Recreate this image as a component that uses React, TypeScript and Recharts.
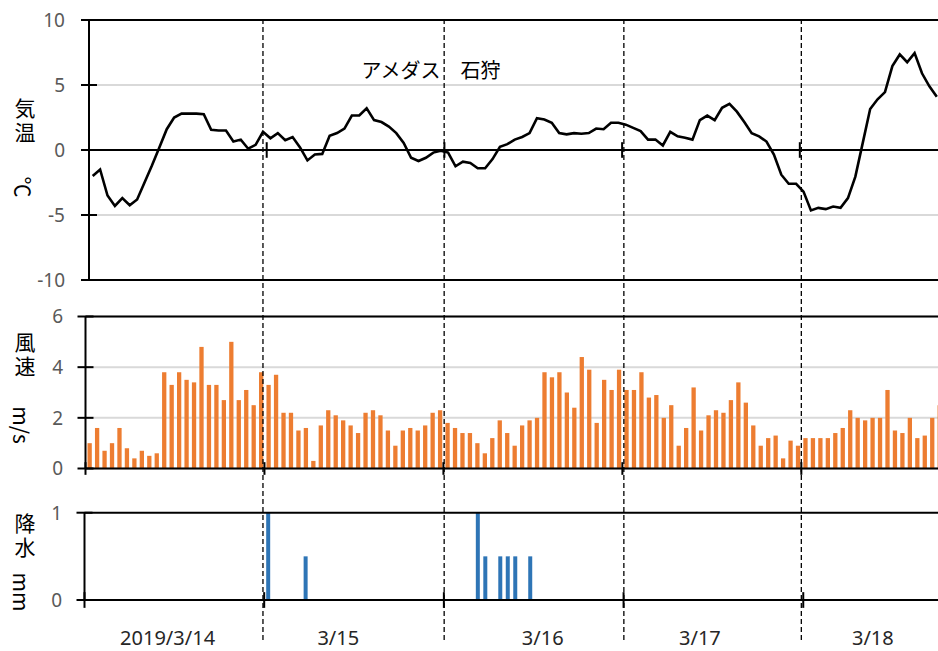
import React from 'react';
import { LineChart, Line, BarChart, Bar, XAxis, YAxis, CartesianGrid, ReferenceLine } from 'recharts';

// hourly values, 3/14 ... 3/18 (one row = one day)
const temperature = [
  -2.0, -1.5, -3.5, -4.3, -3.7, -4.25, -3.8, -2.5, -1.2, 0.2, 1.6, 2.5, 2.8, 2.8, 2.8, 2.75, 1.55, 1.5, 1.5, 0.65, 0.8, 0.1, 0.4, 1.4,
  0.9, 1.3, 0.75, 1.0, 0.2, -0.8, -0.35, -0.3, 1.1, 1.3, 1.65, 2.65, 2.65, 3.2, 2.3, 2.15, 1.8, 1.3, 0.55, -0.6, -0.85, -0.6, -0.2, -0.05,
  -0.2, -1.25, -0.9, -1.0, -1.4, -1.4, -0.7, 0.25, 0.45, 0.8, 1.0, 1.3, 2.45, 2.35, 2.1, 1.3, 1.2, 1.3, 1.25, 1.3, 1.65, 1.6, 2.1, 2.1,
  1.95, 1.7, 1.45, 0.8, 0.8, 0.35, 1.4, 1.05, 0.95, 0.8, 2.3, 2.65, 2.3, 3.25, 3.55, 2.95, 2.15, 1.3, 1.05, 0.65, -0.35, -1.9, -2.6, -2.6,
  -3.2, -4.65, -4.45, -4.55, -4.35, -4.45, -3.7, -2.05, 0.55, 3.15, 3.9, 4.45, 6.45, 7.35, 6.75, 7.45, 5.9, 4.9, 4.1,
];

const windSpeed = [
  1.0, 1.6, 0.7, 1.0, 1.6, 0.8, 0.4, 0.7, 0.5, 0.6, 3.8, 3.3, 3.8, 3.5, 3.4, 4.8, 3.3, 3.3, 2.7, 5.0, 2.7, 3.1, 2.5, 3.8,
  3.3, 3.7, 2.2, 2.2, 1.5, 1.6, 0.3, 1.7, 2.3, 2.1, 1.9, 1.7, 1.4, 2.2, 2.3, 2.1, 1.5, 0.9, 1.5, 1.6, 1.5, 1.7, 2.2, 2.3,
  1.8, 1.6, 1.4, 1.4, 1.0, 0.6, 1.2, 1.9, 1.4, 0.9, 1.7, 1.9, 2.0, 3.8, 3.6, 3.8, 3.0, 2.4, 4.4, 3.9, 1.8, 3.5, 3.1, 3.9,
  3.1, 3.1, 3.8, 2.8, 2.9, 2.0, 2.5, 0.9, 1.6, 3.2, 1.5, 2.1, 2.3, 2.2, 2.7, 3.4, 2.6, 1.7, 0.9, 1.2, 1.3, 0.4, 1.1, 0.9,
  1.2, 1.2, 1.2, 1.2, 1.4, 1.6, 2.3, 2.0, 1.9, 2.0, 2.0, 3.1, 1.5, 1.4, 2.0, 1.2, 1.3, 2.0, 2.5,
];

const precipitation = [
  0, 0, 0, 0, 0, 0, 0, 0, 0, 0, 0, 0, 0, 0, 0, 0, 0, 0, 0, 0, 0, 0, 0, 0,
  1, 0, 0, 0, 0, 0.5, 0, 0, 0, 0, 0, 0, 0, 0, 0, 0, 0, 0, 0, 0, 0, 0, 0, 0,
  0, 0, 0, 0, 1, 0.5, 0, 0.5, 0.5, 0.5, 0, 0.5, 0, 0, 0, 0, 0, 0, 0, 0, 0, 0, 0, 0,
  0, 0, 0, 0, 0, 0, 0, 0, 0, 0, 0, 0, 0, 0, 0, 0, 0, 0, 0, 0, 0, 0, 0, 0,
  0, 0, 0, 0, 0, 0, 0, 0, 0, 0, 0, 0, 0, 0, 0, 0, 0, 0, 0,
];

const tempTicks = [-10, -5, 0, 5, 10];
const windTicks = [0, 2, 4, 6];
const precipTicks = [0, 1];

// day boundaries (hour index) and the dashed day lines drawn over all panels
const dayTicks = [23.5, 47.5, 71.5, 95.5];
const dayLines = [23.3, 47.6, 71.7, 95.5];

const dateTicks = [10.6, 33.4, 60.7, 81.7, 104.8];
const dateLabels = ['2019/3/14', '3/15', '3/16', '3/17', '3/18'];

const data = temperature.map((t, i) => ({ i, t, w: windSpeed[i], p: precipitation[i] }));
const xDomain: [number, number] = [-0.5, data.length - 0.5];

const W = 960;
const numFont = '"Noto Sans", sans-serif';
const jpFont = '"Noto Sans CJK JP", sans-serif';

const makeYTick = (gap: number) => (props: any) => {
  const { x, y, payload } = props;
  return (
    <g>
      <line x1={x - 8} x2={x + 8} y1={y} y2={y} stroke="#000" strokeWidth={2} />
      <text x={x - gap} y={y} dy="0.36em" textAnchor="end" fill="#595959" fontSize={19} fontFamily={numFont}>
        {payload.value}
      </text>
    </g>
  );
};

const DateTick = (props: any) => {
  const { x, y, payload } = props;
  const idx = dateTicks.indexOf(payload.value);
  return (
    <text x={x} y={y + 45} textAnchor="middle" fill="#262626" fontSize={20} fontFamily={numFont}>
      {dateLabels[idx]}
    </text>
  );
};

const Label = ({ text, x, y, rotate }: { text: string; x: number; y: number; rotate?: boolean }) => (
  <div
    style={{
      position: 'absolute',
      left: x,
      top: y,
      transform: `translate(-50%, -50%)${rotate ? ' rotate(90deg)' : ''}`,
      fontFamily: jpFont,
      fontSize: 21,
      lineHeight: '24px',
      color: '#000',
      whiteSpace: 'pre',
      textAlign: 'center',
    }}
  >
    {text}
  </div>
);

export default function App() {
  return (
    <div style={{ position: 'fixed', left: 0, top: 0, width: 938, height: 651, overflow: 'hidden', background: '#fff' }}>
      {/* 気温 */}
      <div style={{ position: 'absolute', left: 0, top: 0 }}>
        <LineChart width={W} height={300} data={data} margin={{ top: 20, right: 19.5, bottom: 20, left: 0 }}>
          <CartesianGrid vertical={false} stroke="#d9d9d9" strokeWidth={2} />
          <XAxis type="number" dataKey="i" domain={xDomain} hide />
          <YAxis
            domain={[-10, 10]}
            ticks={tempTicks}
            interval={0}
            width={89}
            axisLine={{ stroke: '#000', strokeWidth: 2 }}
            tickLine={false}
            tickSize={0}
            tickMargin={0}
            tick={makeYTick(24)}
          />
          <ReferenceLine y={10} stroke="#000" strokeWidth={2} />
          <ReferenceLine y={-10} stroke="#000" strokeWidth={2} />
          <ReferenceLine y={0} stroke="#000" strokeWidth={2} />
          {dayTicks.map((b) => (
            <ReferenceLine key={b} segment={[{ x: b, y: -0.6 }, { x: b, y: 0.6 }]} stroke="#000" strokeWidth={2} />
          ))}
          <Line type="linear" dataKey="t" stroke="#000" strokeWidth={2.6} dot={false} isAnimationActive={false} />
        </LineChart>
      </div>

      {/* 風速 */}
      <div style={{ position: 'absolute', left: 0, top: 300 }}>
        <BarChart width={W} height={190} data={data} margin={{ top: 16.5, right: 17, bottom: 21.5, left: 0 }}>
          <CartesianGrid vertical={false} stroke="#d9d9d9" strokeWidth={2} />
          <XAxis type="number" dataKey="i" domain={xDomain} hide />
          <YAxis
            domain={[0, 6]}
            ticks={windTicks}
            interval={0}
            width={85.5}
            axisLine={{ stroke: '#000', strokeWidth: 2 }}
            tickLine={false}
            tickSize={0}
            tickMargin={0}
            tick={makeYTick(22.5)}
          />
          <ReferenceLine y={6} stroke="#000" strokeWidth={2} />
          <Bar dataKey="w" fill="#ED7D31" barSize={4.3} isAnimationActive={false} />
          <ReferenceLine y={0} stroke="#000" strokeWidth={2} />
          {[-0.5, ...dayTicks].map((b) => (
            <ReferenceLine key={b} segment={[{ x: b, y: -0.25 }, { x: b, y: 0.25 }]} stroke="#000" strokeWidth={2} ifOverflow="visible" />
          ))}
        </BarChart>
      </div>

      {/* 降水 */}
      <div style={{ position: 'absolute', left: 0, top: 490 }}>
        <BarChart width={W} height={161} data={data} margin={{ top: 22.7, right: 14.5, bottom: 0, left: 0 }}>
          <XAxis
            type="number"
            dataKey="i"
            domain={xDomain}
            ticks={dateTicks}
            interval={0}
            height={51}
            axisLine={{ stroke: '#000', strokeWidth: 2 }}
            tickLine={false}
            tickSize={0}
            tickMargin={0}
            tick={DateTick}
          />
          <YAxis
            domain={[0, 1]}
            ticks={precipTicks}
            interval={0}
            width={84.5}
            axisLine={{ stroke: '#000', strokeWidth: 2 }}
            tickLine={false}
            tickSize={0}
            tickMargin={0}
            tick={makeYTick(22.5)}
          />
          <ReferenceLine y={1} stroke="#000" strokeWidth={2} />
          <Bar dataKey="p" fill="#2E75B6" barSize={4} isAnimationActive={false} />
          {[-0.5, ...dayTicks].map((b) => (
            <ReferenceLine key={b} segment={[{ x: b, y: -0.09 }, { x: b, y: 0.09 }]} stroke="#000" strokeWidth={2} ifOverflow="visible" />
          ))}
        </BarChart>
      </div>

      {/* dashed day lines over all three panels */}
      <div style={{ position: 'absolute', left: 0, top: 0, pointerEvents: 'none' }}>
        <LineChart width={W} height={651} data={data} margin={{ top: 19, right: 17, bottom: 11, left: 85.5 }}>
          <XAxis type="number" dataKey="i" domain={xDomain} hide />
          <YAxis domain={[0, 1]} hide />
          <Line dataKey="p" stroke="none" dot={false} activeDot={false} isAnimationActive={false} />
          {dayLines.map((v) => (
            <ReferenceLine key={v} x={v} stroke="#000" strokeWidth={1.3} strokeDasharray="5 3" />
          ))}
        </LineChart>
      </div>

      <div
        style={{
          position: 'absolute',
          left: 431,
          top: 70,
          transform: 'translate(-50%, -50%)',
          fontFamily: jpFont,
          fontSize: 20,
          lineHeight: 1,
          whiteSpace: 'pre',
        }}
      >
        アメダス　石狩
      </div>

      <Label text={'気\n温'} x={25} y={119} />
      <Label text="℃" x={24} y={187} rotate />
      <Label text={'風\n速'} x={25} y={353} />
      <Label text="m/s" x={22} y={425} rotate />
      <Label text={'降\n水'} x={25} y={534} />
      <Label text="mm" x={22} y={592} rotate />
    </div>
  );
}
